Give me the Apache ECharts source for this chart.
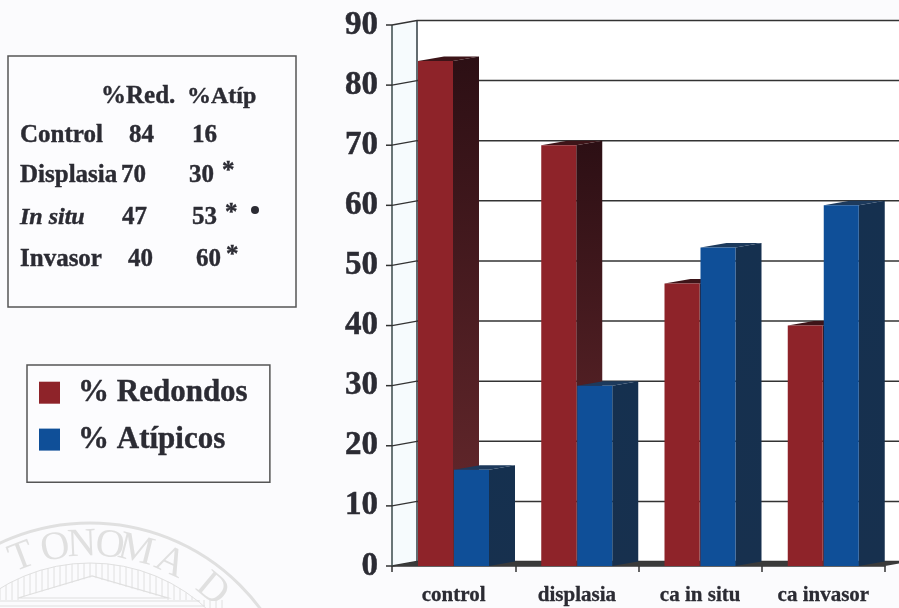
<!DOCTYPE html>
<html><head><meta charset="utf-8">
<style>html,body{margin:0;padding:0;background:#fbfbfd}#c{width:899px;height:608px;filter:blur(0.45px)}</style>
<script src="https://cdn.jsdelivr.net/npm/echarts@6/dist/echarts.min.js"></script>
</head><body><div id="c"></div>
<script>
const categories = ['control','displasia','ca in situ','ca invasor'];
const redondos = [84,70,47,40];
const atipicos = [16,30,53,60];
const yTicks = [0,10,20,30,40,50,60,70,80,90];
const tableHead = ['%Red.','%Atíp'];
const tableNames = ['Control','Displasia','In situ','Invasor'];
const tableMarks = ['','*','*','*'];
const sealLetters = ['T','O','N','O','M','A','D'];
const sealAngles = [-21,-10.5,-2.5,6,14,25,40];

const SERIF = '"Liberation Serif","Times New Roman",serif';
const INK = '#2b2b33';
const DX = 25, DY = 4.5, BAR = 35;

function barRender(order, front, sideGrad, topCol){
  return function(params, api){
    const c = api.coord([api.value(0), api.value(1)]);
    const base = api.coord([api.value(0), 0]);
    const band = api.size([1,0])[0];
    const x0 = c[0] - band/2 + DX + 1 + order*(BAR+1);
    const x1 = x0 + BAR, yT = c[1], yB = base[1];
    return {type:'group', children:[
      {type:'polygon', shape:{points:[[x1,yT],[x1+DX+1,yT-DY],[x1+DX+1,yB-DY],[x1,yB]]}, style:{fill:sideGrad}},
      {type:'polygon', shape:{points:[[x0,yT],[x0+DX+1,yT-DY],[x1+DX+1,yT-DY],[x1,yT]]}, style:{fill:topCol}},
      {type:'rect', shape:{x:x0,y:yT,width:BAR,height:yB-yT}, style:{fill:front}}
    ]};
  };
}
function vGrad(a,b){return {type:'linear',x:0,y:0,x2:0,y2:1,colorStops:[{offset:0,color:a},{offset:1,color:b}]};}

function wallRender(params, api){
  const v = api.value(0);
  const l = api.coord([0,v]);
  const band = api.size([1,0])[0];
  const xL = l[0]-band/2, y = l[1];
  const xR = xL + band*4;
  const kids = [
    {type:'line',shape:{x1:xL-6,y1:y,x2:xL,y2:y},style:{stroke:'#333',lineWidth:1.5}},
    {type:'line',shape:{x1:xL,y1:y,x2:xL+DX,y2:y-DY},style:{stroke:'#333',lineWidth:1.3}},
    {type:'line',shape:{x1:xL+DX,y1:y-DY,x2:xR+DX,y2:y-DY},style:{stroke:'#333',lineWidth:1.5}}
  ];
  if(v===0){
    kids.push({type:'polygon',shape:{points:[[xL,y],[xL+DX,y-DY],[xR+DX,y-DY],[xR,y]]},style:{fill:'#3a3a3a'}});
    const top = api.coord([0,yTicks[yTicks.length-1]])[1];
    kids.unshift({type:'rect',shape:{x:xL+DX,y:top-DY,width:band*4,height:y-top},style:{fill:'#ffffff'}});
    kids.unshift({type:'polygon',shape:{points:[[xL,top],[xL+DX,top-DY],[xL+DX,y-DY],[xL,y]]},style:{fill:'#f6fbfd'}});
    kids.push({type:'line',shape:{x1:xL+DX,y1:top-DY,x2:xL+DX,y2:y-DY},style:{stroke:'#2f3b40',lineWidth:1.5}});
    kids.push({type:'line',shape:{x1:xL,y1:top,x2:xL,y2:y},style:{stroke:'#3a4a4a',lineWidth:1.5}});
  }
  return {type:'group',children:kids};
}

// ---- decorative seal ----
const sealCx=90, sealCy=735, SEAL='#e0e0e0';
const seal = [];
seal.push({type:'circle',shape:{cx:sealCx,cy:sealCy,r:212},style:{fill:'none',stroke:SEAL,lineWidth:3}});
sealLetters.forEach((t,i)=>{
  const a = sealAngles[i]*Math.PI/180, r=190;
  seal.push({type:'text',x:sealCx+r*Math.sin(a),y:sealCy-r*Math.cos(a),rotation:-a,
    style:{text:t,font:'40px '+SERIF,fill:SEAL,align:'center',verticalAlign:'middle'}});
});
seal.push({type:'circle',shape:{cx:sealCx,cy:sealCy,r:172},style:{fill:'none',stroke:SEAL,lineWidth:1}});
for(let x=0;x<=222;x+=6){
  const dx=x-sealCx;
  const yTop=sealCy-Math.sqrt(172*172-dx*dx);
  const yBot=(x>20&&x<165)?577+Math.abs(x-92)*0.29:600;
  seal.push({type:'line',shape:{x1:x,y1:yTop,x2:x,y2:yBot},style:{stroke:SEAL,lineWidth:1}});
}
seal.push({type:'polyline',shape:{points:[[18,598],[92,576],[168,598],[18,598]]},style:{fill:'none',stroke:SEAL,lineWidth:1.2}});
seal.push({type:'line',shape:{x1:0,y1:601,x2:200,y2:601},style:{stroke:SEAL,lineWidth:1.2}});
seal.push({type:'line',shape:{x1:0,y1:606,x2:205,y2:606},style:{stroke:SEAL,lineWidth:1.2}});

// ---- table panel ----
const T = (text,x,y,o={})=>({type:'text',x,y,style:Object.assign({text,font:'bold 25px '+SERIF,fill:INK,verticalAlign:'middle',stroke:INK,lineWidth:0.4},o)});
const rowY=[136,176,218,260], redX=[129,121,122,128], atpX=[192,189,192,196], starX=[222,222,225,226];
const panel=[{type:'rect',shape:{x:8,y:56,width:288,height:251},style:{fill:'#fcfcfe',stroke:'#555',lineWidth:1.5}},
  T(tableHead[0],101,97),T(tableHead[1],187,97,{font:'bold 24px '+SERIF})];
tableNames.forEach((n,i)=>{
  panel.push(T(n,20,rowY[i],i===2?{font:'italic bold 24px '+SERIF}:{}));
  panel.push(T(String(redondos[i]),redX[i],rowY[i]));
  panel.push(T(String(atipicos[i]),atpX[i],rowY[i]));
  if(tableMarks[i]) panel.push(T(tableMarks[i],starX[i],rowY[i]-4));
});
panel.push({type:'circle',shape:{cx:255,cy:210,r:4},style:{fill:INK}});

const chart = echarts.init(document.getElementById('c'),null,{renderer:'canvas'});
chart.setOption({
  animation:false,
  backgroundColor:'#fbfbfd',
  textStyle:{fontFamily:SERIF},
  grid:{left:392,top:25,width:493,height:541,containLabel:false},
  legend:{
    left:27,top:365,width:243,orient:'vertical',
    data:['% Redondos','% Atípicos'],
    icon:'rect',itemWidth:21,itemHeight:22,itemGap:15.5,
    padding:[12,22,27,12],
    borderColor:'#555',borderWidth:1.5,backgroundColor:'#fcfcfe',
    textStyle:{fontFamily:SERIF,fontWeight:'bold',fontSize:31,color:INK,padding:[0,0,0,13],textBorderColor:INK,textBorderWidth:0.4},
    selectedMode:false
  },
  xAxis:{type:'category',data:categories,
    axisLine:{show:true,onZero:false,lineStyle:{color:'#333',width:1.5}},
    axisTick:{show:true,alignWithLabel:false,length:6,lineStyle:{color:'#333',width:1.5}},
    axisLabel:{fontFamily:SERIF,fontWeight:'bold',fontSize:21,color:INK,margin:19,textBorderColor:INK,textBorderWidth:0.3}},
  yAxis:{type:'value',min:0,max:90,interval:10,
    axisLine:{show:false},axisTick:{show:false},splitLine:{show:false},
    axisLabel:{fontFamily:SERIF,fontWeight:'bold',fontSize:33,color:INK,margin:14,padding:[4,0,0,0],textBorderColor:INK,textBorderWidth:0.5}},
  graphic:{elements:[
    {type:'group',silent:true,z:-10,children:seal},
    {type:'group',silent:true,z:-5,children:panel}
  ]},
  series:[
    {type:'custom',name:'wall',z:1,clip:false,silent:true,
      data:yTicks.map(v=>[v]),encode:{y:0},renderItem:wallRender},
    {type:'custom',name:'% Redondos',z:2,clip:false,silent:true,
      itemStyle:{color:'#8e2329'},
      data:categories.map((c,i)=>[i,redondos[i]]),encode:{x:0,y:1},
      renderItem:barRender(0,'#8e2329',vGrad('#2c0f14','#6a2a2e'),'#3d1418')},
    {type:'custom',name:'% Atípicos',z:3,clip:false,silent:true,
      itemStyle:{color:'#0f4f98'},
      data:categories.map((c,i)=>[i,atipicos[i]]),encode:{x:0,y:1},
      renderItem:barRender(1,'#0f4f98',vGrad('#15304f','#17304e'),'#1d3a5c')}
  ]
});
</script></body></html>
